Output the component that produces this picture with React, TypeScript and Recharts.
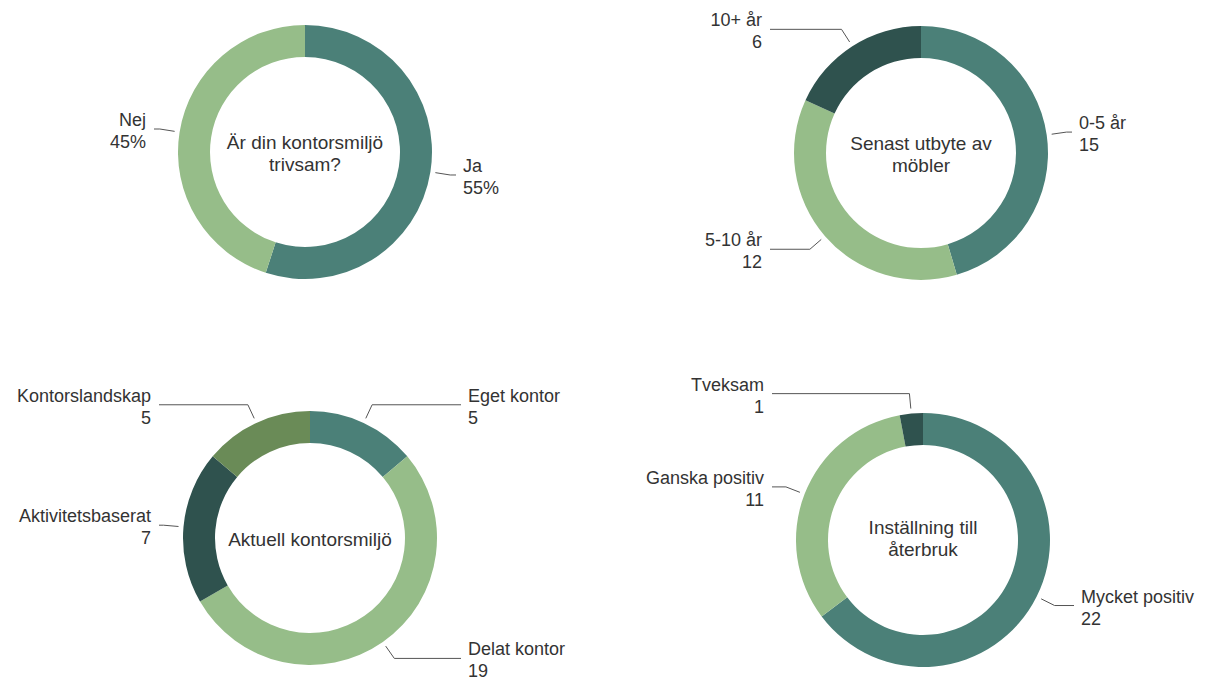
import { PieChart, Pie, Cell, Label } from "recharts";

const TEAL = "#4b8078";
const LIGHT = "#96bd89";
const DARK = "#2f524e";
const OLIVE = "#6a8b57";

// Är din kontorsmiljö trivsam?
const trivsamNames = ["Ja", "Nej"];
const trivsamValues = [55, 45];
const trivsamColors = [TEAL, LIGHT];

// Senast utbyte av möbler
const mobelNames = ["0-5 år", "5-10 år", "10+ år"];
const mobelValues = [15, 12, 6];
const mobelColors = [TEAL, LIGHT, DARK];

// Aktuell kontorsmiljö
const miljoNames = ["Eget kontor", "Delat kontor", "Aktivitetsbaserat", "Kontorslandskap"];
const miljoValues = [5, 19, 7, 5];
const miljoColors = [TEAL, LIGHT, DARK, OLIVE];

// Inställning till återbruk
const aterbrukNames = ["Mycket positiv", "Ganska positiv", "Tveksam"];
const aterbrukValues = [22, 11, 1];
const aterbrukColors = [TEAL, LIGHT, DARK];

const toRows = (names: string[], values: number[]) =>
  names.map((name, i) => ({ name, value: values[i] }));

const RAD = Math.PI / 180;
const FONT = "'Liberation Sans', Arial, sans-serif";
const TEXT = "#333";

function makeLabel(unit: string) {
  return (p: any) => {
    const { cx, cy, midAngle, outerRadius, name, value } = p;
    const cos = Math.cos(-midAngle * RAD);
    const sin = Math.sin(-midAngle * RAD);
    const sx = cx + (outerRadius + 5) * cos;
    const sy = cy + (outerRadius + 5) * sin;
    const mx = cx + (outerRadius + 20) * cos;
    const my = cy + (outerRadius + 20) * sin;
    const right = cos >= 0;
    const ex = cx + (right ? 151 : -151);
    const tx = ex + (right ? 7 : -8);
    const anchor = right ? "start" : "end";
    return (
      <g>
        <polyline
          points={`${sx},${sy} ${mx},${my} ${ex},${my}`}
          fill="none"
          stroke="#555"
          strokeWidth={1}
        />
        <text x={tx} y={my - 3} textAnchor={anchor} fill={TEXT} fontSize={18} fontFamily={FONT}>
          {name}
        </text>
        <text x={tx} y={my + 19} textAnchor={anchor} fill={TEXT} fontSize={18} fontFamily={FONT}>
          {value}
          {unit}
        </text>
      </g>
    );
  };
}

function centerText(lines: string[], cx: number, cy: number, offset: number) {
  return () => (
    <text textAnchor="middle" fill="#333" fontSize={19} fontFamily={FONT}>
      {lines.map((l, i) => (
        <tspan key={i} x={cx} y={cy + offset + i * 22}>
          {l}
        </tspan>
      ))}
    </text>
  );
}

type Donut = {
  names: string[];
  values: number[];
  colors: string[];
  unit: string;
  title: string[];
  titleOffset: number;
  cx: number;
  cy: number;
};

const donuts: Donut[] = [
  { names: trivsamNames, values: trivsamValues, colors: trivsamColors, unit: "%", title: ["Är din kontorsmiljö", "trivsam?"], titleOffset: -3, cx: 305, cy: 152 },
  { names: mobelNames, values: mobelValues, colors: mobelColors, unit: "", title: ["Senast utbyte av", "möbler"], titleOffset: -3, cx: 921, cy: 153 },
  { names: miljoNames, values: miljoValues, colors: miljoColors, unit: "", title: ["Aktuell kontorsmiljö"], titleOffset: 8, cx: 310, cy: 538 },
  { names: aterbrukNames, values: aterbrukValues, colors: aterbrukColors, unit: "", title: ["Inställning till", "återbruk"], titleOffset: -6, cx: 923, cy: 540 },
];

export default function App() {
  return (
    <div style={{ position: "absolute", left: 0, top: 0, width: 1208, height: 677, background: "#fff" }}>
      <PieChart width={1208} height={677} margin={{ top: 0, right: 0, bottom: 0, left: 0 }}>
        {donuts.map((d, k) => (
          <Pie
            key={k}
            data={toRows(d.names, d.values)}
            dataKey="value"
            nameKey="name"
            cx={d.cx}
            cy={d.cy}
            innerRadius={95}
            outerRadius={127}
            startAngle={90}
            endAngle={-270}
            stroke="none"
            label={makeLabel(d.unit)}
            labelLine={false}
            isAnimationActive={false}
          >
            {d.colors.map((c, i) => (
              <Cell key={i} fill={c} />
            ))}
            <Label position="center" content={centerText(d.title, d.cx, d.cy, d.titleOffset)} />
          </Pie>
        ))}
      </PieChart>
    </div>
  );
}
